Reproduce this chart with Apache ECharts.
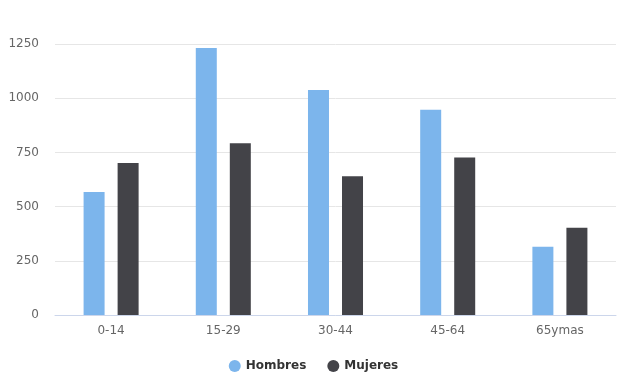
<!DOCTYPE html>
<html>
<head>
<meta charset="utf-8">
<script src="https://cdn.jsdelivr.net/npm/echarts@6/dist/echarts.min.js"></script>
<style>
html,body{margin:0;padding:0;background:#fff;}
#chart{width:627px;height:376px;}
</style>
</head>
<body>
<div id="chart"></div>
<script>
var categories = ['0-14', '15-29', '30-44', '45-64', '65ymas'];
var hombres = [567, 1231, 1038, 947, 315];
var mujeres = [701, 792, 640, 726, 403];
var yTicks = [0, 250, 500, 750, 1000, 1250];

var chart = echarts.init(document.getElementById('chart'));
chart.setOption({
  animation: false,
  backgroundColor: '#ffffff',
  textStyle: { fontFamily: 'DejaVu Sans' },
  grid: { left: 55, right: 11, top: 44, bottom: 61 },
  legend: {
    top: 355,
    left: 'center',
    icon: 'circle',
    itemWidth: 12,
    itemHeight: 12,
    itemGap: 21,
    textStyle: { color: '#333333', fontSize: 12, fontWeight: 'bold', fontFamily: 'DejaVu Sans' },
    data: ['Hombres', 'Mujeres']
  },
  xAxis: {
    type: 'category',
    data: categories,
    axisLine: { lineStyle: { color: '#ccd6eb' } },
    axisTick: { show: false },
    axisLabel: { color: '#666666', fontSize: 12, margin: 10 },
    splitLine: { show: false }
  },
  yAxis: {
    type: 'value',
    min: yTicks[0],
    max: yTicks[yTicks.length - 1],
    interval: 250,
    axisLine: { show: false },
    axisTick: { show: false },
    axisLabel: { color: '#666666', fontSize: 12, margin: 16, formatter: function (v) { return String(v); } },
    splitLine: { lineStyle: { color: '#e6e6e6' } }
  },
  series: [
    { name: 'Hombres', type: 'bar', data: hombres, barWidth: 21, barGap: '62%', itemStyle: { color: '#7cb5ec' } },
    { name: 'Mujeres', type: 'bar', data: mujeres, barWidth: 21, itemStyle: { color: '#434348' } }
  ]
});
</script>
</body>
</html>
